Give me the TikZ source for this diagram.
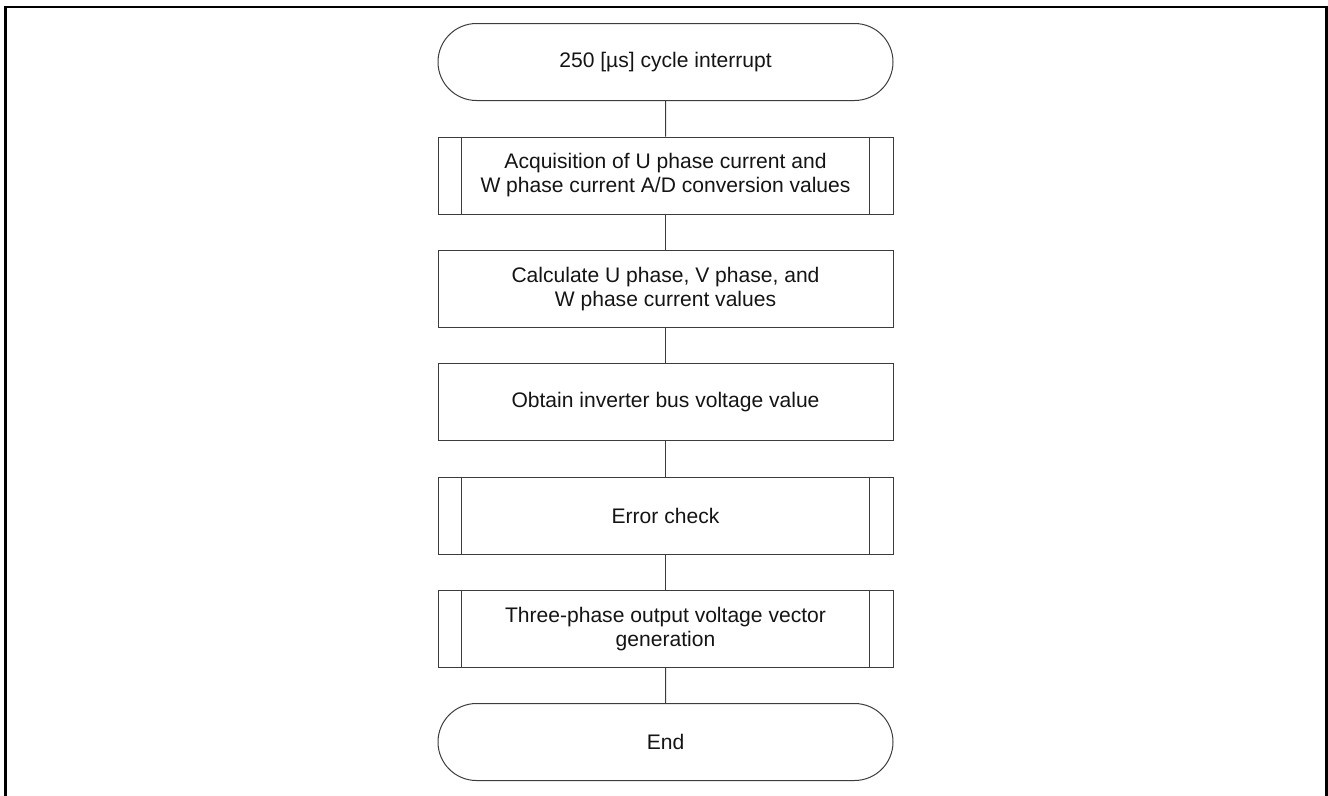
\documentclass[tikz,border=0pt]{standalone}
\usepackage{fontspec}
\setmainfont{Liberation Sans}
\usetikzlibrary{shapes.misc}
\definecolor{linegrey}{RGB}{60,60,60}
\definecolor{textgrey}{RGB}{20,20,20}
\begin{document}
\begin{tikzpicture}[x=0.75pt,y=-0.75pt,
  base/.style={draw=linegrey, line width=0.75pt, minimum width=341.25pt, minimum height=57.75pt,
    inner sep=0pt, align=center, text=textgrey,
    font=\fontsize{15.8pt}{18pt}\selectfont},
  term/.style={base, rounded rectangle},
  proc/.style={base, rectangle},
  subproc/.style={base, rectangle},
  link/.style={draw=linegrey, line width=0.75pt},
  frame/.style={draw=black, line width=1.9pt}
]
\useasboundingbox (0,0) rectangle (1328,796);
\draw[frame] (5.5,800) -- (5.5,7) -- (1326.5,7) -- (1326.5,800);

\node[term]    (start) at (665.5,62)    {250 [µs] cycle interrupt};
\node[subproc] (acq)   at (665.5,175.5) {Acquisition of U phase current and\\W phase current A/D conversion values};
\node[proc]    (calc)  at (665.5,288.8) {Calculate U phase, V phase, and\\W phase current values};
\node[proc]    (bus)   at (665.5,402.2) {Obtain inverter bus voltage value};
\node[subproc] (err)   at (665.5,515.5) {Error check};
\node[subproc] (gen)   at (665.5,628.8) {Three-phase output voltage vector\\generation};
\node[term]    (end)   at (665.5,742)   {End};

\foreach \n in {acq,err,gen}{
  \draw[link] ([xshift=18pt]\n.north west) -- ([xshift=18pt]\n.south west);
  \draw[link] ([xshift=-18pt]\n.north east) -- ([xshift=-18pt]\n.south east);
}

\draw[link] (start) -- (acq);
\draw[link] (acq) -- (calc);
\draw[link] (calc) -- (bus);
\draw[link] (bus) -- (err);
\draw[link] (err) -- (gen);
\draw[link] (gen) -- (end);
\end{tikzpicture}
\end{document}
